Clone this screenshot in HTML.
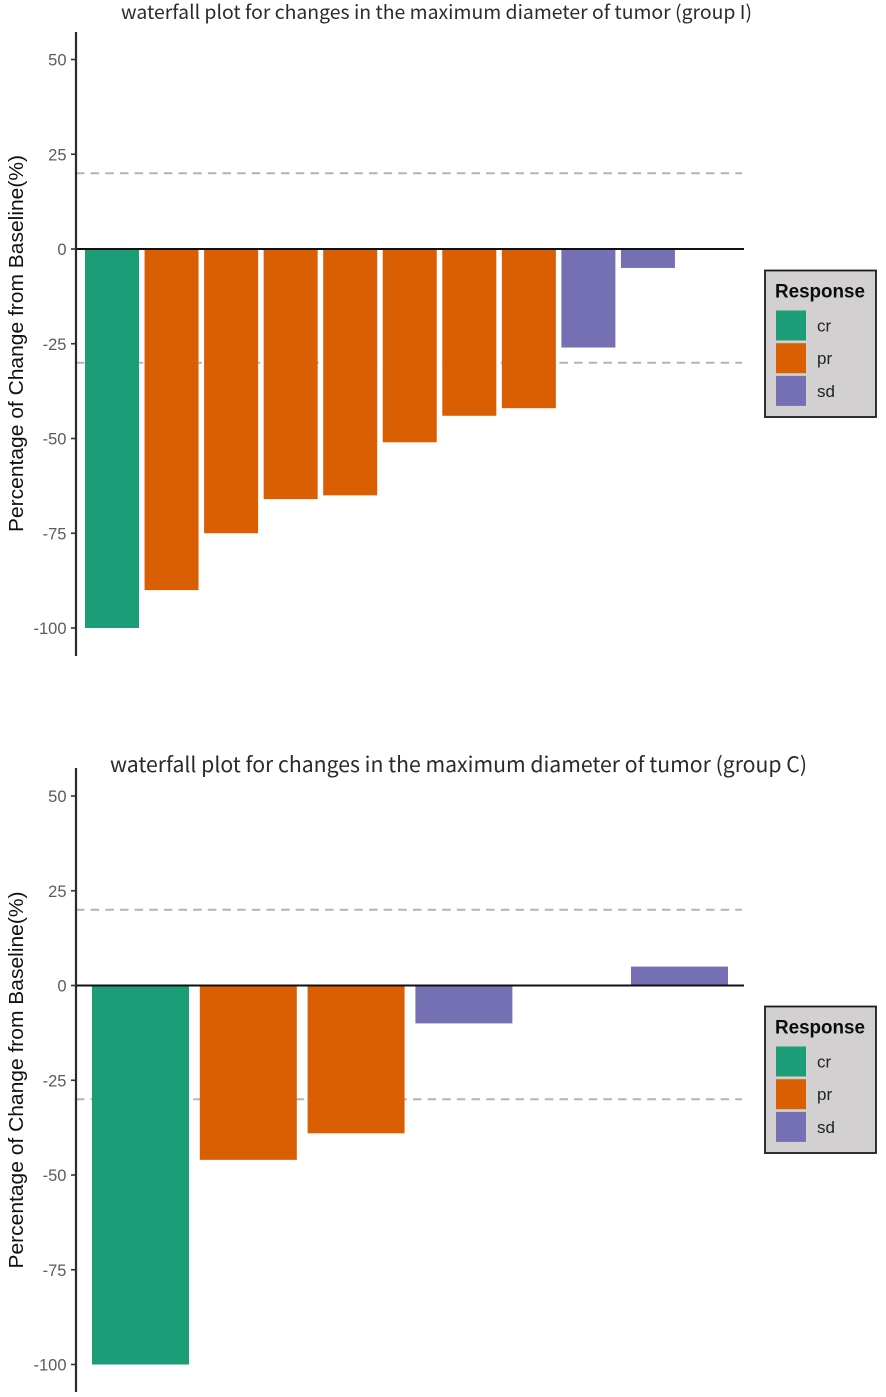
<!DOCTYPE html>
<html lang="en">
<head>
<meta charset="utf-8">
<title>Waterfall plots</title>
<style>
html,body{margin:0;padding:0;background:#fff;}
svg{display:block;}
text{font-family:"Liberation Sans",sans-serif;}
.title{font-family:"Noto Sans CJK SC","Liberation Sans",sans-serif;fill:#2b2b2b;}
.tick{font-size:16.5px;fill:#5c5c5c;text-anchor:end;}
.ytitle{font-size:20px;fill:#111;text-anchor:middle;}
.ltitle{font-size:19px;font-weight:bold;fill:#0c0c0c;}
.llabel{font-size:17px;fill:#222;}
</style>
</head>
<body>
<svg id="chart" xmlns="http://www.w3.org/2000/svg" width="886" height="1397" viewBox="0 0 886 1397"></svg>
<script>
const yTicks = [50, 25, 0, -25, -50, -75, -100];
const refLines = [20, -30];
const responseKeys = ['cr', 'pr', 'sd'];
const responseColors = ['#1b9e77', '#d95f02', '#7570b3'];
const group1Values = [-100, -90, -75, -66, -65, -51, -44, -42, -26, -5];
const group1Responses = ['cr', 'pr', 'pr', 'pr', 'pr', 'pr', 'pr', 'pr', 'sd', 'sd'];
const group2Values = [-100, -46, -39, -10, 0, 5];
const group2Responses = ['cr', 'pr', 'pr', 'sd', 'sd', 'sd'];

const svg = document.getElementById('chart');
const NS = 'http://www.w3.org/2000/svg';

function make(tag, attrs, parent, text) {
  const el = document.createElementNS(NS, tag);
  for (const k in attrs) el.setAttribute(k, attrs[k]);
  if (text !== undefined) el.textContent = text;
  parent.appendChild(el);
  return el;
}

function drawPanel(p) {
  const g = make('g', {}, svg);
  
  

  const yScale = v => p.zeroY - v * 3.79;
  const xCenter = i => p.firstCenter + i * p.step;
  const colorOf = r => responseColors[responseKeys.indexOf(r)];

  const title = make('text', {x: p.titleX, y: p.titleY, class: 'title', 'font-size': p.titleSize, textLength: p.titleLen, lengthAdjust: 'spacingAndGlyphs'}, g, p.title);
  
  

  refLines.forEach(v => {
    const l = make('line', {x1: 76, x2: 742, y1: yScale(v), y2: yScale(v), stroke: '#b4b4b4', 'stroke-width': 2, 'stroke-dasharray': '8.5 6.15'}, g);
    
    
  });

  p.values.forEach((v, i) => {
    const top = Math.min(yScale(v), yScale(0));
    const h = Math.abs(yScale(v) - yScale(0));
    const r = make('rect', {x: xCenter(i) - p.barW / 2, y: top, width: p.barW, height: h, fill: colorOf(p.responses[i])}, g);
    
    
  });

  const zero = make('line', {x1: 76, x2: 744, y1: yScale(0), y2: yScale(0), stroke: '#111', 'stroke-width': 2}, g);
  
  

  const axis = make('line', {x1: 76, x2: 76, y1: p.axisTop, y2: p.axisBottom, stroke: '#2a2a2a', 'stroke-width': 2.2}, g);
  
  

  yTicks.forEach(v => {
    const t = make('line', {x1: 71, x2: 76, y1: yScale(v), y2: yScale(v), stroke: '#333', 'stroke-width': 1.6}, g);
    
    
    const lab = make('text', {x: 66.5, y: yScale(v) + 6, class: 'tick'}, g, String(v));
    
    
  });

  const yt = make('text', {class: 'ytitle', transform: 'translate(23,' + p.yTitleMid + ') rotate(-90)', textLength: 377, lengthAdjust: 'spacingAndGlyphs'}, g, 'Percentage of Change from Baseline(%)');
  
  

  const leg = make('g', {}, g);
  
  
  make('rect', {x: 765, y: p.legendTop, width: 111, height: 146.5, fill: '#d3d0d1', stroke: '#1c1c1c', 'stroke-width': 1.8}, leg);
  const lt = make('text', {x: 775, y: p.legendTop + 27, class: 'ltitle', textLength: 90, lengthAdjust: 'spacingAndGlyphs'}, leg, 'Response');
  
  
  responseKeys.forEach((k, i) => {
    const top = p.legendTop + 40 + i * 32.7;
    const s = make('rect', {x: 776, y: top, width: 30, height: 30, fill: responseColors[i]}, leg);
    
    
    const t = make('text', {x: 817, y: top + 21, class: 'llabel'}, leg, k);
    
    
  });
}

drawPanel({
  name: 'panel-group-i',
  title: 'waterfall plot for changes in the maximum diameter of tumor (group I)',
  titleSize: 19, titleX: 121, titleY: 19, titleLen: 631,
  zeroY: 249, axisTop: 32, axisBottom: 656,
  firstCenter: 112, step: 59.55, barW: 54,
  values: group1Values, responses: group1Responses,
  yTitleMid: 343.5, legendTop: 270.5
});
drawPanel({
  name: 'panel-group-c',
  title: 'waterfall plot for changes in the maximum diameter of tumor (group C)',
  titleSize: 21, titleX: 110, titleY: 772, titleLen: 697,
  zeroY: 985.5, axisTop: 768, axisBottom: 1392,
  firstCenter: 140.5, step: 107.8, barW: 97,
  values: group2Values, responses: group2Responses,
  yTitleMid: 1080, legendTop: 1006.5
});
</script>
</body>
</html>
